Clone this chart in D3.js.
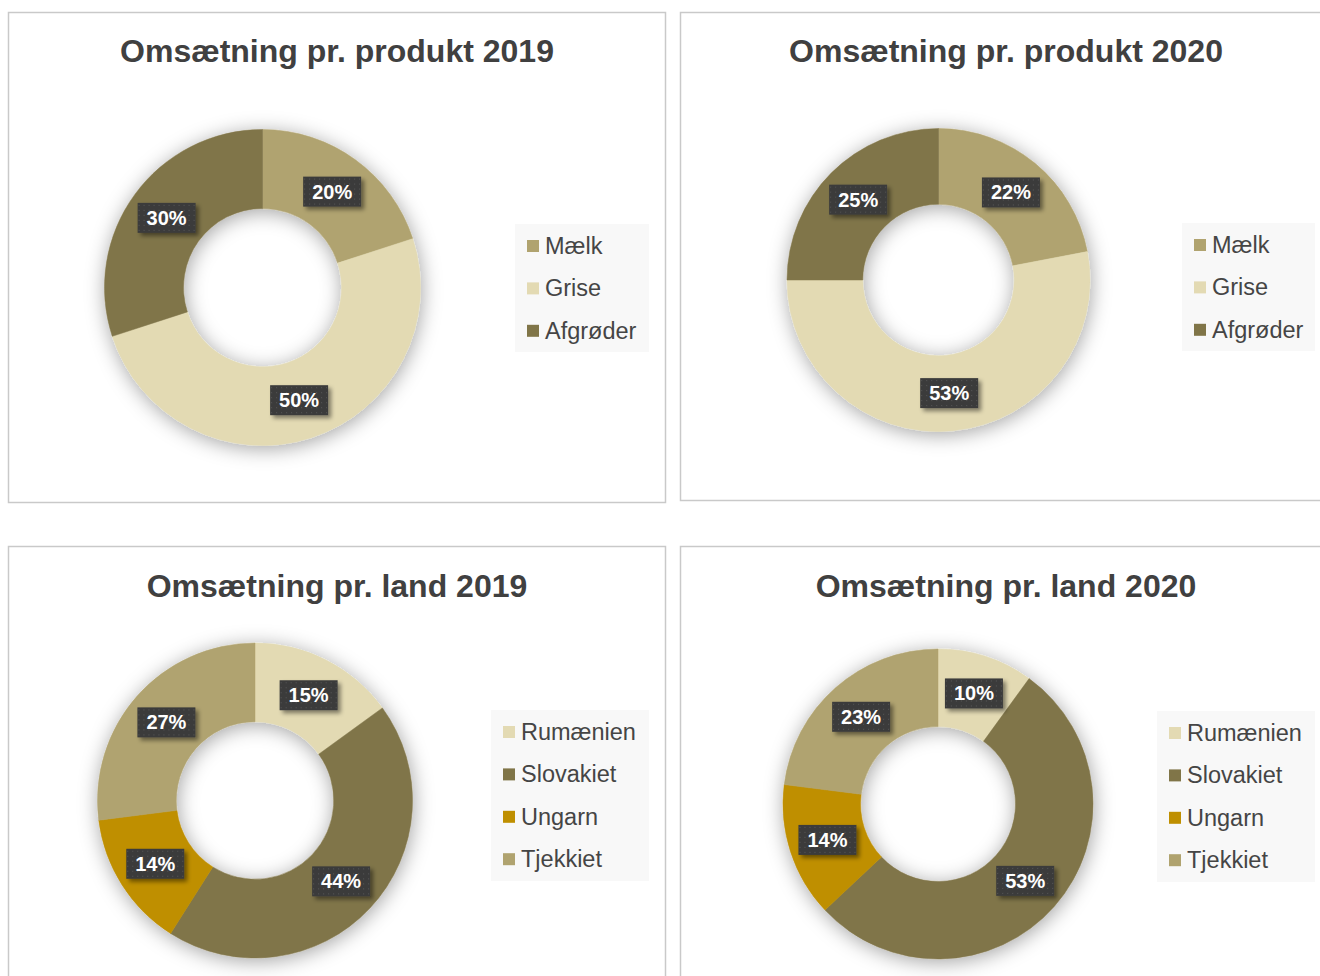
<!DOCTYPE html>
<html lang="da">
<head>
<meta charset="utf-8">
<title>Omsætning</title>
<script src="https://cdn.jsdelivr.net/npm/d3@7/dist/d3.min.js"></script>
<style>
  body { margin: 0; background: #fff; }
  svg { display: block; font-family: "Liberation Sans", Arial, sans-serif; }
</style>
</head>
<body>
<script>
// data
var productCategories = ["Mælk", "Grise", "Afgrøder"];
var product2019 = [20, 50, 30];
var product2020 = [22, 53, 25];

var countryCategories = ["Rumænien", "Slovakiet", "Ungarn", "Tjekkiet"];
var country2019 = [15, 44, 14, 27];
var country2020 = [10, 53, 14, 23];

var productColors = ["#B0A36F", "#E3DAB3", "#807548"];
var countryColors = ["#E3DAB3", "#807548", "#BF8F00", "#B0A36F"];

// one entry per panel: where the frame, donut and legend sit
var panels = [
  { title: "Omsætning pr. produkt 2019", cats: productCategories, values: product2019, colors: productColors,
    frame: [8.5, 12.5, 657, 490], titleX: 337, titleY: 62,
    cx: 262.5, cy: 287.5, r: 158, legend: [515, 224, 134, 128] },
  { title: "Omsætning pr. produkt 2020", cats: productCategories, values: product2020, colors: productColors,
    frame: [680.5, 12.5, 660, 488], titleX: 1006, titleY: 62,
    cx: 938.5, cy: 280, r: 151.5, legend: [1182, 223, 133, 128] },
  { title: "Omsætning pr. land 2019", cats: countryCategories, values: country2019, colors: countryColors,
    frame: [8.5, 546.5, 657, 460], titleX: 337, titleY: 597,
    cx: 255, cy: 800.5, r: 157.5, legend: [491, 710, 158, 171] },
  { title: "Omsætning pr. land 2020", cats: countryCategories, values: country2020, colors: countryColors,
    frame: [680.5, 546.5, 660, 460], titleX: 1006, titleY: 597,
    cx: 938, cy: 804, r: 155, legend: [1157, 711, 158, 171] }
];

var width = 1320, height = 976;

var svg = d3.select("body").append("svg")
  .attr("width", width)
  .attr("height", height);

var defs = svg.append("defs");

// soft shadow around the rings
var ringShadow = defs.append("filter").attr("id", "ringShadow")
  .attr("x", "-35%").attr("y", "-35%").attr("width", "170%").attr("height", "170%");
ringShadow.append("feDropShadow")
  .attr("dx", 1).attr("dy", 3).attr("stdDeviation", 10)
  .attr("flood-color", "#000").attr("flood-opacity", 0.36);

// shadow under the data labels
var labelShadow = defs.append("filter").attr("id", "labelShadow")
  .attr("x", "-30%").attr("y", "-30%").attr("width", "170%").attr("height", "170%");
labelShadow.append("feDropShadow")
  .attr("dx", 3).attr("dy", 3).attr("stdDeviation", 2)
  .attr("flood-color", "#000").attr("flood-opacity", 0.45);

// dotted dark fill of the labels
var dots = defs.append("pattern").attr("id", "dots")
  .attr("width", 5).attr("height", 5).attr("patternUnits", "userSpaceOnUse");
dots.append("rect").attr("width", 5).attr("height", 5).attr("fill", "#3B3B3B");
dots.append("rect").attr("x", 2).attr("y", 2).attr("width", 1).attr("height", 1).attr("fill", "#575757");

var pct = d3.format(".0%");

panels.forEach(function (p) {
  var g = svg.append("g");

  // frame
  g.append("rect")
    .attr("x", p.frame[0]).attr("y", p.frame[1])
    .attr("width", p.frame[2]).attr("height", p.frame[3])
    .attr("fill", "#fff")
    .attr("stroke", "#C9C9C9")
    .attr("stroke-width", 1.5);

  // title
  g.append("text")
    .attr("x", p.titleX).attr("y", p.titleY)
    .attr("text-anchor", "middle")
    .attr("font-size", 32)
    .attr("font-weight", "bold")
    .attr("fill", "#404040")
    .text(p.title);

  var color = d3.scaleOrdinal().domain(p.cats).range(p.colors);
  var total = d3.sum(p.values);

  var pie = d3.pie().sort(null).value(function (d) { return d.value; });
  var arcs = pie(p.cats.map(function (c, i) { return { cat: c, value: p.values[i] }; }));

  var arc = d3.arc().innerRadius(p.r * 0.5).outerRadius(p.r);

  var donut = g.append("g").attr("transform", "translate(" + p.cx + "," + p.cy + ")");

  donut.append("g")
    .attr("filter", "url(#ringShadow)")
    .selectAll("path")
    .data(arcs)
    .enter()
    .append("path")
    .attr("d", arc)
    .attr("fill", function (d) { return color(d.data.cat); })
    .attr("stroke", function (d) { return color(d.data.cat); })
    .attr("stroke-width", 0.5);

  // data labels
  var labels = donut.selectAll("g.lbl")
    .data(arcs)
    .enter()
    .append("g")
    .attr("class", "lbl")
    .attr("transform", function (d) { return "translate(" + arc.centroid(d) + ")"; });

  labels.append("rect")
    .attr("x", -29).attr("y", -15)
    .attr("width", 58).attr("height", 30)
    .attr("fill", "url(#dots)")
    .attr("filter", "url(#labelShadow)");

  labels.append("text")
    .attr("text-anchor", "middle")
    .attr("dy", 7)
    .attr("font-size", 20)
    .attr("font-weight", "bold")
    .attr("fill", "#fff")
    .text(function (d) { return pct(d.data.value / total); });

  // legend
  var lg = g.append("g");
  lg.append("rect")
    .attr("x", p.legend[0]).attr("y", p.legend[1])
    .attr("width", p.legend[2]).attr("height", p.legend[3])
    .attr("fill", "#F8F8F8");

  var items = lg.selectAll("g.item")
    .data(p.cats)
    .enter()
    .append("g")
    .attr("class", "item")
    .attr("transform", function (d, i) {
      return "translate(" + (p.legend[0] + 12) + "," + (p.legend[1] + 22 + i * 42.4) + ")";
    });

  items.append("rect")
    .attr("x", 0).attr("y", -6)
    .attr("width", 12).attr("height", 12)
    .attr("fill", function (d) { return color(d); });

  items.append("text")
    .attr("x", 18).attr("y", 8)
    .attr("font-size", 23.5)
    .attr("fill", "#454545")
    .text(function (d) { return d; });
});
</script>
</body>
</html>
